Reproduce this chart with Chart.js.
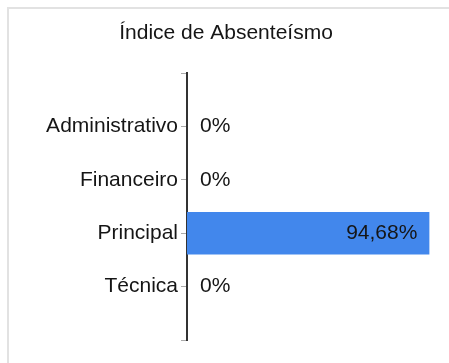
<!DOCTYPE html>
<html lang="pt-BR">
<head>
  <meta charset="UTF-8">
  <title>Índice de Absenteísmo</title>
  <script src="https://cdn.jsdelivr.net/npm/chart.js"></script>
  <style>
    html, body {
      margin: 0;
      padding: 0;
      background: #fff;
      overflow: hidden;
      width: 449px;
      height: 363px;
    }
    .card {
      position: absolute;
      left: 7px;
      top: 7px;
      width: 460px;
      height: 400px;
      border-top: 2px solid #e2e2e2;
      border-left: 2px solid #e2e2e2;
    }
    .chart-box {
      position: absolute;
      left: 0;
      top: 0;
      width: 449px;
      height: 363px;
    }
  </style>
</head>
<body>
  <div class="card"></div>
  <div class="chart-box">
    <canvas id="absChart"></canvas>
  </div>

  <script>
    // Setores e índice de absenteísmo (%)
    const setores = ['Administrativo', 'Financeiro', 'Principal', 'Técnica'];
    const indices = [0, 0, 94.68, 0];

    const fontFamily = 'Arial, "Liberation Sans", sans-serif';
    const textColor = '#151515';

    // slots vazios nas pontas para o eixo passar além da primeira e última barra
    const labels = [''].concat(setores, ['']);
    const values = [null].concat(indices, [null]);

    function formatPct(v) {
      return String(v).replace('.', ',') + '%';
    }

    // escreve o valor de cada barra: dentro da barra se houver valor, ao lado do eixo se zero
    const valueLabels = {
      id: 'valueLabels',
      afterDatasetsDraw(chart) {
        const ctx = chart.ctx;
        const meta = chart.getDatasetMeta(0);
        ctx.save();
        ctx.font = '21px ' + fontFamily;
        ctx.fillStyle = textColor;
        ctx.textBaseline = 'middle';
        meta.data.forEach((bar, i) => {
          const v = values[i];
          if (v === null) return;
          if (v > 0) {
            ctx.textAlign = 'right';
            ctx.fillText(formatPct(v), bar.x - 12, bar.y);
          } else {
            ctx.textAlign = 'left';
            ctx.fillText(formatPct(v), bar.base + 13, bar.y);
          }
        });
        ctx.restore();
      }
    };

    new Chart(document.getElementById('absChart'), {
      type: 'bar',
      data: {
        labels: labels,
        datasets: [{
          label: 'Índice de Absenteísmo',
          data: values,
          backgroundColor: '#4287ec',
          borderWidth: 0,
          barPercentage: 1,
          categoryPercentage: 0.8
        }]
      },
      options: {
        indexAxis: 'y',
        responsive: true,
        maintainAspectRatio: false,
        animation: false,
        layout: { padding: { left: 9, top: 9, right: 6, bottom: 23 } },
        plugins: {
          legend: { display: false },
          tooltip: { enabled: false },
          title: {
            display: true,
            text: 'Índice de Absenteísmo',
            color: textColor,
            font: { family: fontFamily, size: 21, weight: 'normal' },
            padding: { top: 12, bottom: 27 }
          }
        },
        scales: {
          x: {
            display: false,
            min: 0,
            max: 100
          },
          y: {
            offset: false,
            afterFit(scale) { scale.width = 178; },
            border: { display: true, color: '#333', width: 2 },
            grid: {
              offset: false,
              drawOnChartArea: false,
              drawTicks: true,
              tickLength: 6,
              color: '#aaa'
            },
            ticks: {
              color: textColor,
              padding: 3,
              font: { family: fontFamily, size: 21 }
            }
          }
        }
      },
      plugins: [valueLabels]
    });
  </script>
</body>
</html>
